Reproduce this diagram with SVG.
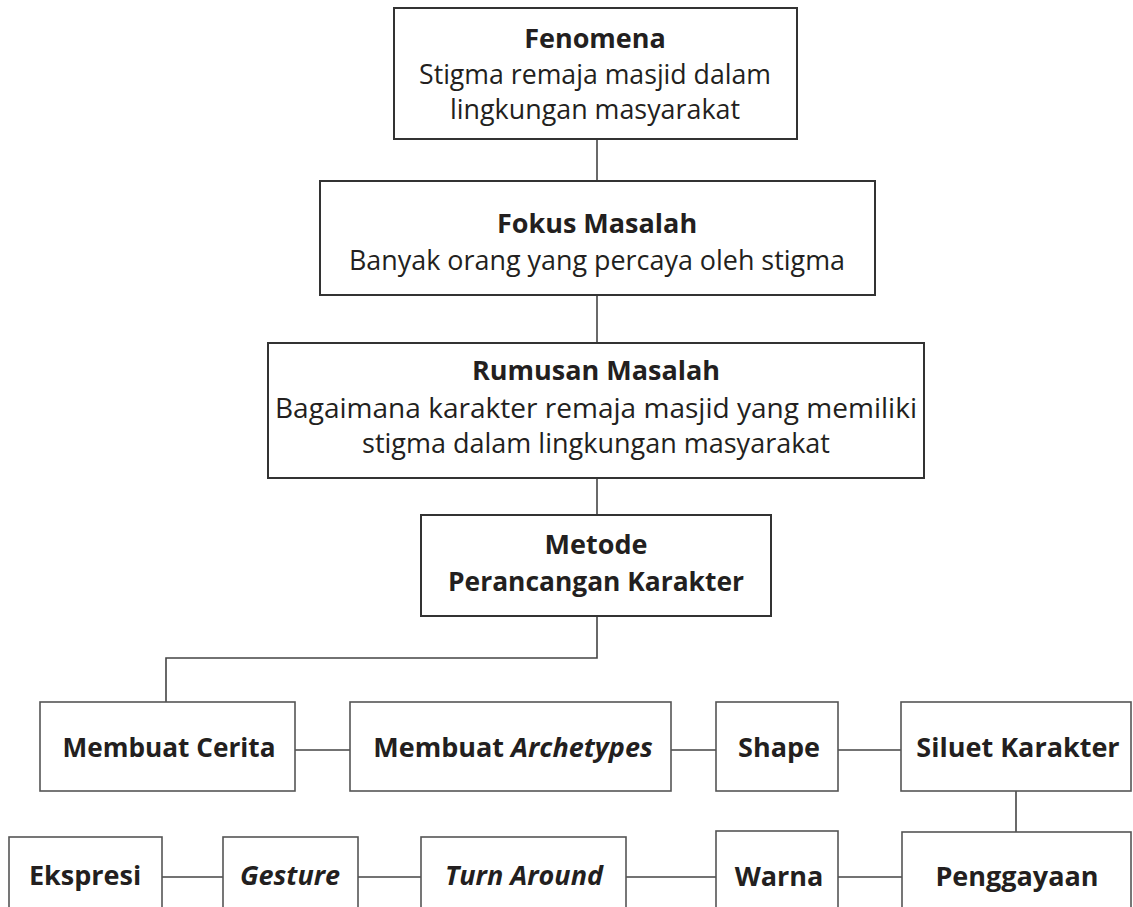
<svg xmlns="http://www.w3.org/2000/svg" width="1133" height="907" viewBox="0 0 1133 907">
<style>
  .box { fill: #fff; stroke: #333; stroke-width: 2; }
  .sbox { fill: #fff; stroke: #555; stroke-width: 1.6; }
  .conn { fill: none; stroke: #444; stroke-width: 1.6; }
  text { font-family: "Open Sans", "Noto Sans", sans-serif; font-size: 27px; fill: #231f20; text-anchor: middle; }
  .b { font-weight: bold; }
  .i { font-style: italic; }
</style>
<rect width="1133" height="907" fill="#fff"/>
<g id="connectors">
  <line class="conn" x1="597" y1="139" x2="597" y2="181"/>
  <line class="conn" x1="597" y1="295" x2="597" y2="343"/>
  <line class="conn" x1="597" y1="478" x2="597" y2="515"/>
  <polyline class="conn" points="597,616 597,658 166,658 166,702"/>
  <line class="conn" x1="295" y1="750" x2="350" y2="750"/>
  <line class="conn" x1="671" y1="750" x2="716" y2="750"/>
  <line class="conn" x1="838" y1="750" x2="901" y2="750"/>
  <line class="conn" x1="1016" y1="791" x2="1016" y2="832"/>
  <line class="conn" x1="162" y1="877" x2="223" y2="877"/>
  <line class="conn" x1="358" y1="877" x2="421" y2="877"/>
  <line class="conn" x1="626" y1="877" x2="716" y2="877"/>
  <line class="conn" x1="838" y1="877" x2="902" y2="877"/>
</g>
<g id="fenomena">
  <rect class="box" x="394" y="8" width="403" height="131"/>
  <text class="b" x="595" y="48">Fenomena</text>
  <text x="595" y="84" textLength="352" lengthAdjust="spacingAndGlyphs">Stigma remaja masjid dalam</text>
  <text x="595" y="119" textLength="290" lengthAdjust="spacingAndGlyphs">lingkungan masyarakat</text>
</g>
<g id="fokus">
  <rect class="box" x="320" y="181" width="555" height="114"/>
  <text class="b" x="597" y="233">Fokus Masalah</text>
  <text x="597" y="270" textLength="496" lengthAdjust="spacingAndGlyphs">Banyak orang yang percaya oleh stigma</text>
</g>
<g id="rumusan">
  <rect class="box" x="268" y="343" width="656" height="135"/>
  <text class="b" x="596" y="380">Rumusan Masalah</text>
  <text x="596" y="418" textLength="642" lengthAdjust="spacingAndGlyphs">Bagaimana karakter remaja masjid yang memiliki</text>
  <text x="596" y="453">stigma dalam lingkungan masyarakat</text>
</g>
<g id="metode">
  <rect class="box" x="421" y="515" width="350" height="101"/>
  <text class="b" x="596" y="554">Metode</text>
  <text class="b" x="596" y="591" textLength="296" lengthAdjust="spacingAndGlyphs">Perancangan Karakter</text>
</g>
<g id="membuat-cerita">
  <rect class="sbox" x="40" y="702" width="255" height="89"/>
  <text class="b" x="169" y="757" textLength="213" lengthAdjust="spacingAndGlyphs">Membuat Cerita</text>
</g>
<g id="membuat-archetypes">
  <rect class="sbox" x="350" y="702" width="321" height="89"/>
  <text class="b" x="513" y="757">Membuat <tspan class="i">Archetypes</tspan></text>
</g>
<g id="shape">
  <rect class="sbox" x="716" y="702" width="122" height="89"/>
  <text class="b" x="779" y="757">Shape</text>
</g>
<g id="siluet-karakter">
  <rect class="sbox" x="901" y="702" width="230" height="89"/>
  <text class="b" x="1018" y="757">Siluet Karakter</text>
</g>
<g id="ekspresi">
  <rect class="sbox" x="9" y="837" width="153" height="90"/>
  <text class="b" x="85" y="885">Ekspresi</text>
</g>
<g id="gesture">
  <rect class="sbox" x="223" y="837" width="135" height="90"/>
  <text class="b i" x="290" y="885">Gesture</text>
</g>
<g id="turn-around">
  <rect class="sbox" x="421" y="837" width="205" height="90"/>
  <text class="b i" x="524" y="885">Turn Around</text>
</g>
<g id="warna">
  <rect class="sbox" x="716" y="831" width="122" height="96"/>
  <text class="b" x="779" y="886">Warna</text>
</g>
<g id="penggayaan">
  <rect class="sbox" x="902" y="832" width="229" height="95"/>
  <text class="b" x="1017" y="886">Penggayaan</text>
</g>
</svg>
